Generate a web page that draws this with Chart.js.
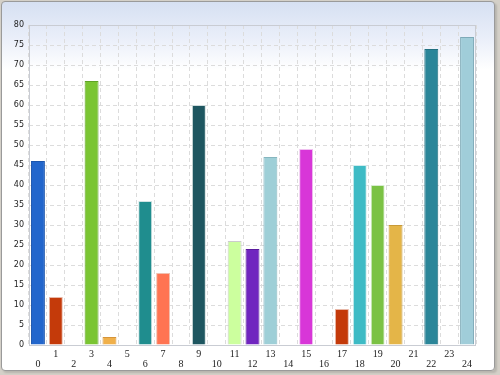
<!DOCTYPE html>
<html>
<head>
<meta charset="utf-8">
<script src="https://cdn.jsdelivr.net/npm/chart.js@4/dist/chart.umd.min.js"></script>
<style>
  html, body { margin: 0; padding: 0; background: #d4d0c8; }
  #wrap { position: relative; width: 500px; height: 375px; overflow: hidden; }
  #panel {
    position: absolute; left: 1px; top: 1px; width: 492px; height: 368px;
    border: 1px solid #9a9a9a; border-radius: 4px;
    background: linear-gradient(to bottom, #d6e0f2 0px, #e9eef9 35px, #ffffff 68px, #ffffff 100%);
    box-shadow: 2px 2px 2px #b8b5ae;
  }
  #chart { position: absolute; left: 0; top: 0; }
</style>
</head>
<body>
<div id="wrap">
  <div id="panel"></div>
  <canvas id="chart" width="500" height="375"></canvas>
</div>
<script>
// values
const categories = ['0','1','2','3','4','5','6','7','8','9','10','11','12','13','14','15','16','17','18','19','20','21','22','23','24'];
const values = [46, 12, 0, 66, 2, 0, 36, 18, 0, 60, 0, 26, 24, 47, 0, 49, 0, 9, 45, 40, 30, 0, 74, 0, 77];
const barColors = ['#2266cc','#c43a0a','#cccccc','#7ac532','#f0b04a','#cccccc','#1f8d8e','#ff7452','#cccccc','#1e5660',
                   '#cccccc','#ccff9e','#7025bf','#9ecfd7','#cccccc','#d836d8','#cccccc','#c43a0a','#3ebbc5','#7bc244',
                   '#e4b548','#cccccc','#2b8699','#cccccc','#a0cdd9'];
const borderColors = ['#1b55ad','#e8b8a8','#cccccc','#5fa326','#d6953a','#cccccc','#d0e4e4','#f0c0b0','#cccccc','#d0dcdd',
                      '#a8d888','#cccccc','#5a1c9e','#86b6bf','#cccccc','#f0c0f0','#cccccc','#e8b8a8','#d0ecee','#d8ecd0',
                      '#c89a38','#cccccc','#217080','#cccccc','#7eaab8'];
const yTicks = { min: 0, max: 80, step: 5 };

// light frame round the plot area
const plotFrame = {
  id: 'plotFrame',
  beforeDatasetsDraw(chart) {
    const { ctx, chartArea: a } = chart;
    ctx.save();
    ctx.strokeStyle = '#c9ccd3';
    ctx.lineWidth = 1;
    ctx.strokeRect(a.left + 0.5, a.top + 0.5, a.right - a.left - 1, a.bottom - a.top);
    ctx.restore();
  }
};

new Chart(document.getElementById('chart'), {
  type: 'bar',
  data: {
    labels: categories,
    datasets: [{
      data: values,
      backgroundColor: barColors,
      borderColor: borderColors,
      borderWidth: 1,
      borderSkipped: 'bottom',
      barPercentage: 0.78,
      categoryPercentage: 1
    }]
  },
  options: {
    responsive: false,
    animation: false,
    layout: { padding: { left: 0, top: 25, right: 24, bottom: 0 } },
    plugins: { legend: { display: false }, tooltip: { enabled: false } },
    scales: {
      x: {
        grid: { color: '#dcdcdc', drawTicks: false },
        border: { display: false, dash: [4, 3] },
        ticks: {
          autoSkip: false, maxRotation: 0, padding: 4, color: '#222',
          font: { family: 'Liberation Serif', size: 10, lineHeight: 1.0 },
          callback: (v, i) => (i % 2 === 0 ? ['', categories[i]] : [categories[i]])
        },
        afterFit: s => { s.height = 30; }
      },
      y: {
        min: yTicks.min, max: yTicks.max,
        grid: { color: '#dcdcdc', drawTicks: false },
        border: { display: false, dash: [4, 3] },
        ticks: {
          stepSize: yTicks.step, padding: 5, color: '#222',
          font: { family: 'DejaVu Sans', size: 8 }
        },
        afterFit: s => { s.width = 29; }
      }
    }
  },
  plugins: [plotFrame]
});
</script>
</body>
</html>
